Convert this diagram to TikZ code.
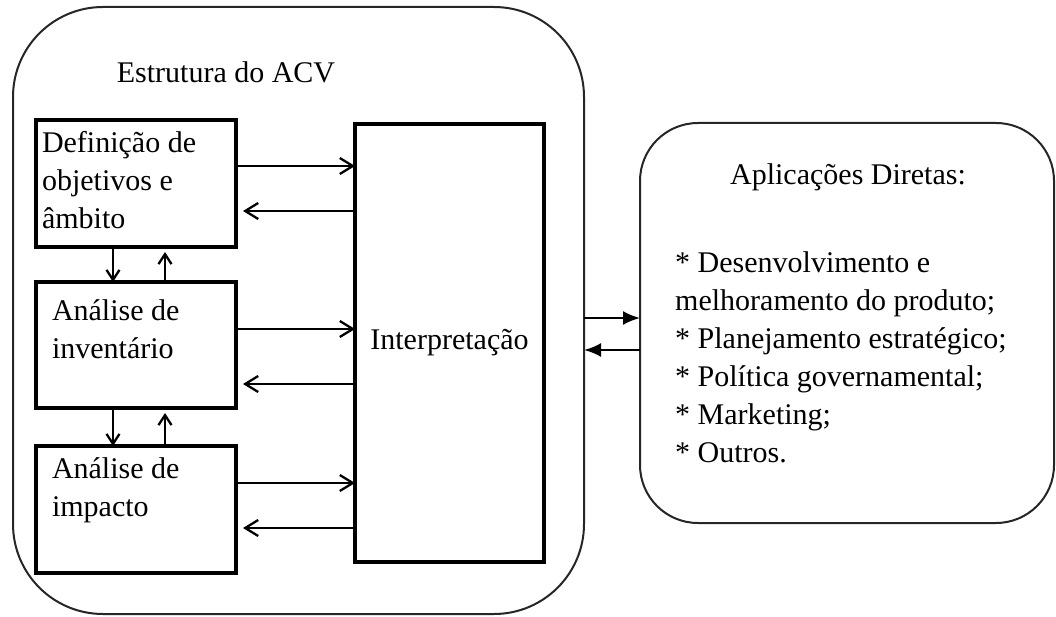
\documentclass[tikz,border=0pt]{standalone}
\usepackage{fontspec}
\setmainfont{Liberation Serif}
\usetikzlibrary{arrows.meta,positioning}

\begin{document}
\begin{tikzpicture}[x=1pt,y=-1pt,font=\fontsize{30}{38}\selectfont,
  frame/.style={draw=black!85,line width=2pt,outer sep=0pt},
  stage/.style={draw,line width=3.2pt,outer sep=0pt,align=flush left,text width=188pt,inner xsep=6pt,inner ysep=0pt},
  flow/.style={line width=2.3pt,-{Straight Barb[length=13pt,width=16pt]}},
  vflow/.style={line width=2.3pt,-{Straight Barb[length=10pt,width=13pt]}},
  link/.style={line width=2.3pt,-{Latex[length=17pt,width=14pt]}}]
\useasboundingbox (0,0) rectangle (1056,617);

% left frame
\node[frame,rounded corners=90pt,minimum width=571pt,minimum height=607pt,anchor=north west] (acv) at (13,7) {};
\node[anchor=base] (acvtitle) at (226,83) {Estrutura do ACV};

\node[stage,anchor=north west,text height=33pt,text depth=94pt] (def) at (36,120) {Definição de\\objetivos e\\âmbito};
\node[stage,below=35pt of def,inner xsep=16pt,text width=168pt,text height=38pt,text depth=88pt] (inv) {Análise de\\inventário};
\node[stage,below=38pt of inv,inner xsep=16pt,text width=168pt,text height=32pt,text depth=95pt] (imp) {Análise de\\impacto};

\node[draw,line width=3.2pt,outer sep=0pt,minimum width=189pt,minimum height=438pt,anchor=north west] (int) at (355,124) {Interpretação};

% right frame
\node[frame,rounded corners=58pt,minimum width=414pt,minimum height=400pt,anchor=north west] (apl) at (640,123) {};
\node[anchor=base] (apltitle) at (848,185) {Aplicações Diretas:};
\node[anchor=north west,align=left,inner sep=0pt] (aplist) at (675,251) {* Desenvolvimento e\\melhoramento do produto;\\* Planejamento estratégico;\\* Política governamental;\\* Marketing;\\* Outros.};

% stages <-> interpretation
\draw[flow] ([yshift=17.5pt]def.east) -- ([yshift=17.5pt]def.east -| int.west);
\draw[flow] ([yshift=-27.5pt]def.east -| int.west) -- ([yshift=-27.5pt,xshift=7pt]def.east);
\draw[flow] ([yshift=16pt]inv.east) -- ([yshift=16pt]inv.east -| int.west);
\draw[flow] ([yshift=-39pt]inv.east -| int.west) -- ([yshift=-39pt,xshift=7pt]inv.east);
\draw[flow] ([yshift=26.5pt]imp.east) -- ([yshift=26.5pt]imp.east -| int.west);
\draw[flow] ([yshift=-18.5pt]imp.east -| int.west) -- ([yshift=-18.5pt,xshift=7pt]imp.east);

% between stages
\draw[vflow] ([xshift=-23pt]def.south) -- ([xshift=-23pt]inv.north);
\draw[vflow] ([xshift=29pt]inv.north) -- ([xshift=29pt,yshift=-5pt]def.south);
\draw[vflow] ([xshift=-23pt]inv.south) -- ([xshift=-23pt]imp.north);
\draw[vflow] ([xshift=29pt]imp.north) -- ([xshift=29pt,yshift=-5pt]inv.south);

% ACV <-> applications
\draw[link] ([yshift=5pt]apl.west -| acv.east) -- ([yshift=5pt]apl.west);
\draw[link] ([yshift=-27pt]apl.west) -- ([yshift=-27pt]apl.west -| acv.east);
\end{tikzpicture}
\end{document}
